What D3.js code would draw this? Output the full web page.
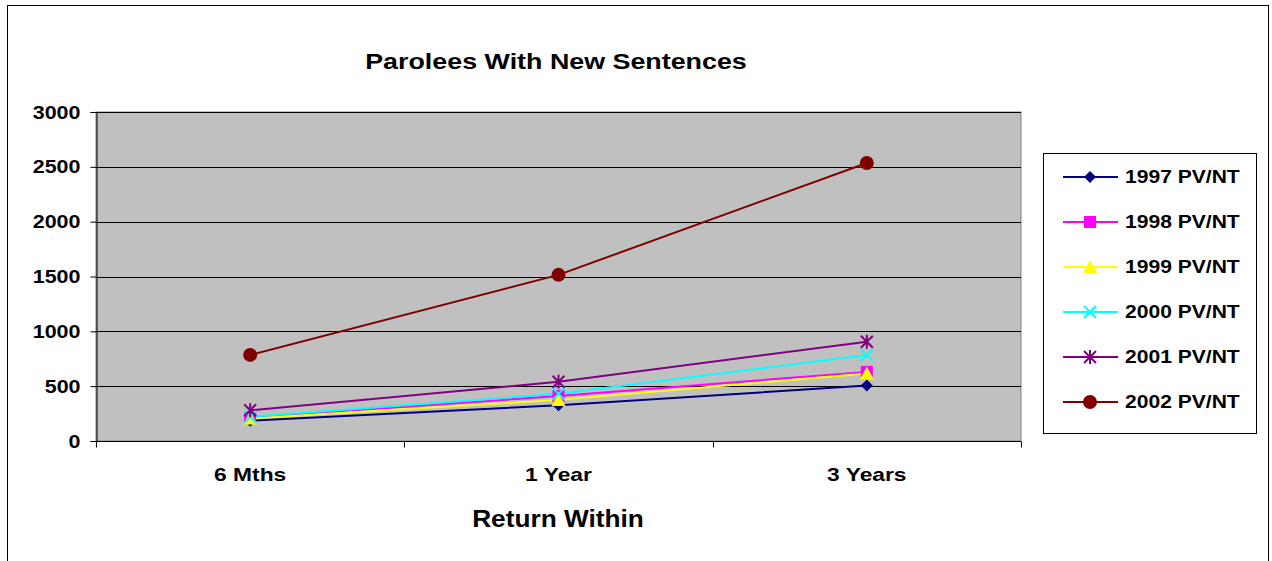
<!DOCTYPE html>
<html>
<head>
<meta charset="utf-8">
<script src="https://cdn.jsdelivr.net/npm/d3@7"></script>
<style>
  body { margin: 0; background: #fff; }
  svg { font-family: "Liberation Sans", Arial, sans-serif; }
</style>
</head>
<body>
<svg id="chart" width="1272" height="561"></svg>
<script>
// categories on the x axis
const categories = ["6 Mths", "1 Year", "3 Years"];
const yTicks = [0, 500, 1000, 1500, 2000, 2500, 3000];

// series names + values
const seriesNames = ["1997 PV/NT", "1998 PV/NT", "1999 PV/NT", "2000 PV/NT", "2001 PV/NT", "2002 PV/NT"];
const v1997 = [185, 325, 505];
const v1998 = [215, 410, 630];
const v1999 = [205, 375, 615];
const v2000 = [220, 430, 785];
const v2001 = [280, 540, 905];
const v2002 = [785, 1515, 2535];

const seriesColors = ["#000080", "#FF00FF", "#FFFF00", "#00FFFF", "#800080", "#800000"];
const seriesMarkers = ["diamond", "square", "triangle", "x", "star", "circle"];

const series = seriesNames.map((name, i) => ({
    name: name,
    values: [v1997, v1998, v1999, v2000, v2001, v2002][i],
    color: seriesColors[i],
    marker: seriesMarkers[i]
}));

const svg = d3.select("#chart");

// the old excel text is a bit wider than liberation sans, so stretch it
function stretch(sel, factor) {
    sel.each(function() {
        const w = this.getComputedTextLength();
        d3.select(this)
            .attr("textLength", w * factor)
            .attr("lengthAdjust", "spacingAndGlyphs");
    });
}

// outer frame
svg.append("rect")
    .attr("x", 7.5).attr("y", 5.5)
    .attr("width", 1261).attr("height", 570)
    .attr("fill", "#fff").attr("stroke", "#000").attr("stroke-width", 1);

const plot = { left: 96, top: 112, right: 1021, bottom: 441 };

const x = d3.scaleBand()
    .domain(categories)
    .range([plot.left, plot.right]);

const y = d3.scaleLinear()
    .domain([0, 3000])
    .range([plot.bottom, plot.top]);

// plot area
svg.append("rect")
    .attr("x", plot.left).attr("y", plot.top)
    .attr("width", plot.right - plot.left).attr("height", plot.bottom - plot.top)
    .attr("fill", "#C0C0C0").attr("stroke", "#808080").attr("stroke-width", 1);

// gridlines
svg.append("g")
    .selectAll("line")
    .data(yTicks.filter(d => d > 0))
    .join("line")
    .attr("x1", plot.left).attr("x2", plot.right)
    .attr("y1", d => Math.round(y(d)) + 0.5).attr("y2", d => Math.round(y(d)) + 0.5)
    .attr("stroke", "#000").attr("stroke-width", 1);

// y axis
const yAxis = svg.append("g")
    .attr("transform", `translate(${plot.left + 0.5},0)`)
    .call(d3.axisLeft(y).tickValues(yTicks).tickFormat(d3.format("d")).tickSize(6).tickPadding(10));
yAxis.attr("font-family", null).attr("font-size", null);
yAxis.select(".domain").attr("stroke", "#000");
yAxis.selectAll(".tick line").attr("stroke", "#000");
yAxis.selectAll("text")
    .attr("font-size", 19).attr("font-weight", "bold").attr("fill", "#000")
    .call(stretch, 1.13);

// x axis: ticks at band edges
const xAxisG = svg.append("g")
    .attr("transform", `translate(0,${plot.bottom + 0.5})`);
xAxisG.append("line")
    .attr("x1", plot.left).attr("x2", plot.right)
    .attr("stroke", "#000");
const edges = categories.map(c => x(c)).concat([x(categories[categories.length - 1]) + x.bandwidth()]);
xAxisG.selectAll("line.tick")
    .data(edges)
    .join("line")
    .attr("class", "tick")
    .attr("x1", d => Math.round(d) + 0.5).attr("x2", d => Math.round(d) + 0.5)
    .attr("y1", 0).attr("y2", 6)
    .attr("stroke", "#000");
xAxisG.selectAll("text")
    .data(categories)
    .join("text")
    .attr("x", d => x(d) + x.bandwidth() / 2)
    .attr("y", 39)
    .attr("text-anchor", "middle")
    .attr("font-size", 19).attr("font-weight", "bold")
    .text(d => d)
    .call(stretch, 1.2);

// titles
svg.append("text")
    .attr("x", 556).attr("y", 69)
    .attr("text-anchor", "middle")
    .attr("font-size", 22).attr("font-weight", "bold")
    .text("Parolees With New Sentences")
    .call(stretch, 1.22);

svg.append("text")
    .attr("x", 558).attr("y", 527)
    .attr("text-anchor", "middle")
    .attr("font-size", 23).attr("font-weight", "bold")
    .text("Return Within")
    .call(stretch, 1.14);

// marker drawing
function drawMarker(g, type, color) {
    const s = 6;
    if (type === "diamond") {
        g.append("path").attr("d", `M0,${-s}L${s},0L0,${s}L${-s},0Z`).attr("fill", color);
    } else if (type === "square") {
        g.append("rect").attr("x", -6).attr("y", -6).attr("width", 12).attr("height", 12).attr("fill", color);
    } else if (type === "triangle") {
        g.append("path").attr("d", "M0,-7L7,6L-7,6Z").attr("fill", color);
    } else if (type === "x") {
        g.append("path").attr("d", "M-6,-6L6,6M-6,6L6,-6").attr("stroke", color).attr("stroke-width", 2);
    } else if (type === "star") {
        g.append("path").attr("d", "M-6,-6L6,6M-6,6L6,-6M0,-7L0,7").attr("stroke", color).attr("stroke-width", 2);
    } else if (type === "circle") {
        g.append("circle").attr("r", 7).attr("fill", color);
    }
}

const line = d3.line()
    .x((d, i) => x(categories[i]) + x.bandwidth() / 2)
    .y(d => y(d));

const seriesG = svg.append("g");
series.forEach(s => {
    seriesG.append("path")
        .datum(s.values)
        .attr("d", line)
        .attr("fill", "none")
        .attr("stroke", s.color)
        .attr("stroke-width", 2);
});
series.forEach(s => {
    s.values.forEach((v, i) => {
        const g = seriesG.append("g")
            .attr("transform", `translate(${x(categories[i]) + x.bandwidth() / 2},${y(v)})`);
        drawMarker(g, s.marker, s.color);
    });
});

// legend
const legend = svg.append("g");
legend.append("rect")
    .attr("x", 1043.5).attr("y", 153.5)
    .attr("width", 213).attr("height", 280)
    .attr("fill", "#fff").attr("stroke", "#000").attr("stroke-width", 1);

series.forEach((s, i) => {
    const ly = 177 + i * 45;
    const g = legend.append("g");
    g.append("line")
        .attr("x1", 1063).attr("x2", 1118)
        .attr("y1", ly).attr("y2", ly)
        .attr("stroke", s.color).attr("stroke-width", 2);
    const m = g.append("g").attr("transform", `translate(1090,${ly})`);
    drawMarker(m, s.marker, s.color);
    g.append("text")
        .attr("x", 1125).attr("y", ly + 6)
        .attr("font-size", 18).attr("font-weight", "bold")
        .text(s.name)
        .call(stretch, 1.17);
});
</script>
</body>
</html>
